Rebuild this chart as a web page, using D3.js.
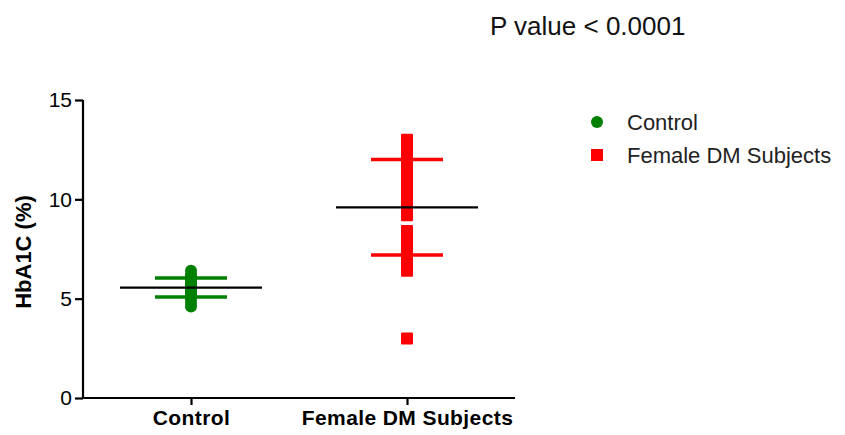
<!DOCTYPE html>
<html>
<head>
<meta charset="utf-8">
<script src="https://cdn.jsdelivr.net/npm/d3@7"></script>
<style>
  body { margin: 0; background: #fff; }
  svg { font-family: "Liberation Sans", Arial, sans-serif; }
</style>
</head>
<body>
<svg width="845" height="435"></svg>
<script>
// data
const categories = ['Control', 'Female DM Subjects'];
const controlValues = [4.6, 4.8, 5.0, 5.1, 5.2, 5.3, 5.4, 5.5, 5.5, 5.6, 5.7, 5.8, 5.9, 6.0, 6.1, 6.2, 6.4];
const femaleValues = [3.0, 6.4, 6.6, 6.8, 7.0, 7.2, 7.5, 7.8, 8.0, 8.2, 8.4, 9.2, 9.4, 9.6, 9.8, 10.0,
  10.2, 10.5, 10.8, 11.0, 11.3, 11.6, 12.0, 12.3, 12.6, 13.0];
const means = [5.56, 9.6];
const sds = [0.48, 2.4];
const yTicks = [0, 5, 10, 15];
const colors = ['#008000', '#ff0000'];
const pText = 'P value < 0.0001';

const svg = d3.select('svg');

const x = d3.scalePoint()
    .domain(categories)
    .range([83, 515])
    .padding(0.5);
const y = d3.scaleLinear()
    .domain([0, 15])
    .range([398, 100]);

// axes
const yAxis = svg.append('g')
    .attr('transform', 'translate(83,0)')
    .call(d3.axisLeft(y).tickValues(yTicks).tickSize(8).tickPadding(3));
yAxis.selectAll('text').style('font-size', '21px').attr('fill', '#000');

const xAxis = svg.append('g')
    .attr('transform', 'translate(0,398)')
    .call(d3.axisBottom(x).tickSize(7).tickPadding(5));
xAxis.selectAll('text')
    .style('font-size', '21px')
    .style('font-weight', 'bold')
    .style('letter-spacing', '0.4px')
    .attr('fill', '#000');

svg.selectAll('.domain, .tick line')
    .attr('stroke', '#000')
    .attr('stroke-width', 2.2);
xAxis.select('.domain').attr('d', 'M83,0H515');
yAxis.select('.domain').attr('d', 'M0,100V399');

svg.append('text')
    .attr('transform', `translate(31,${(y(15) + y(0)) / 2 + 3}) rotate(-90)`)
    .attr('text-anchor', 'middle')
    .style('font-size', '22px')
    .style('font-weight', 'bold')
    .text('HbA1C (%)');

// points
const pts = svg.append('g');
pts.selectAll('circle')
    .data(controlValues)
    .enter()
    .append('circle')
    .attr('cx', x(categories[0]))
    .attr('cy', d => y(d))
    .attr('r', 6)
    .attr('fill', colors[0]);
pts.selectAll('rect')
    .data(femaleValues)
    .enter()
    .append('rect')
    .attr('x', x(categories[1]) - 6)
    .attr('y', d => y(d) - 6)
    .attr('width', 12)
    .attr('height', 12)
    .attr('rx', 1)
    .attr('fill', colors[1]);

// sd bars
categories.forEach((c, i) => {
    [means[i] - sds[i], means[i] + sds[i]].forEach(v => {
        svg.append('line')
            .attr('x1', x(c) - 36).attr('x2', x(c) + 36)
            .attr('y1', y(v)).attr('y2', y(v))
            .attr('stroke', colors[i])
            .attr('stroke-width', 3.5);
    });
});

// means
svg.selectAll('.mean')
    .data(means)
    .enter()
    .append('line')
    .attr('class', 'mean')
    .attr('x1', (d, i) => x(categories[i]) - 71)
    .attr('x2', (d, i) => x(categories[i]) + 71)
    .attr('y1', d => y(d))
    .attr('y2', d => y(d))
    .attr('stroke', '#000')
    .attr('stroke-width', 2.2);

// legend
const legend = svg.append('g').attr('transform', 'translate(597,122)');
legend.append('circle').attr('cx', 0).attr('cy', 0).attr('r', 6).attr('fill', colors[0]);
legend.append('rect').attr('x', -6).attr('y', 27).attr('width', 12).attr('height', 12).attr('fill', colors[1]);
legend.selectAll('text')
    .data(categories)
    .enter()
    .append('text')
    .attr('x', 30)
    .attr('y', (d, i) => 8 + i * 33)
    .style('font-size', '22px')
    .attr('fill', '#222')
    .text(d => d);

svg.append('text')
    .attr('x', 490)
    .attr('y', 35)
    .style('font-size', '26px')
    .attr('fill', '#111')
    .text(pText);
</script>
</body>
</html>
